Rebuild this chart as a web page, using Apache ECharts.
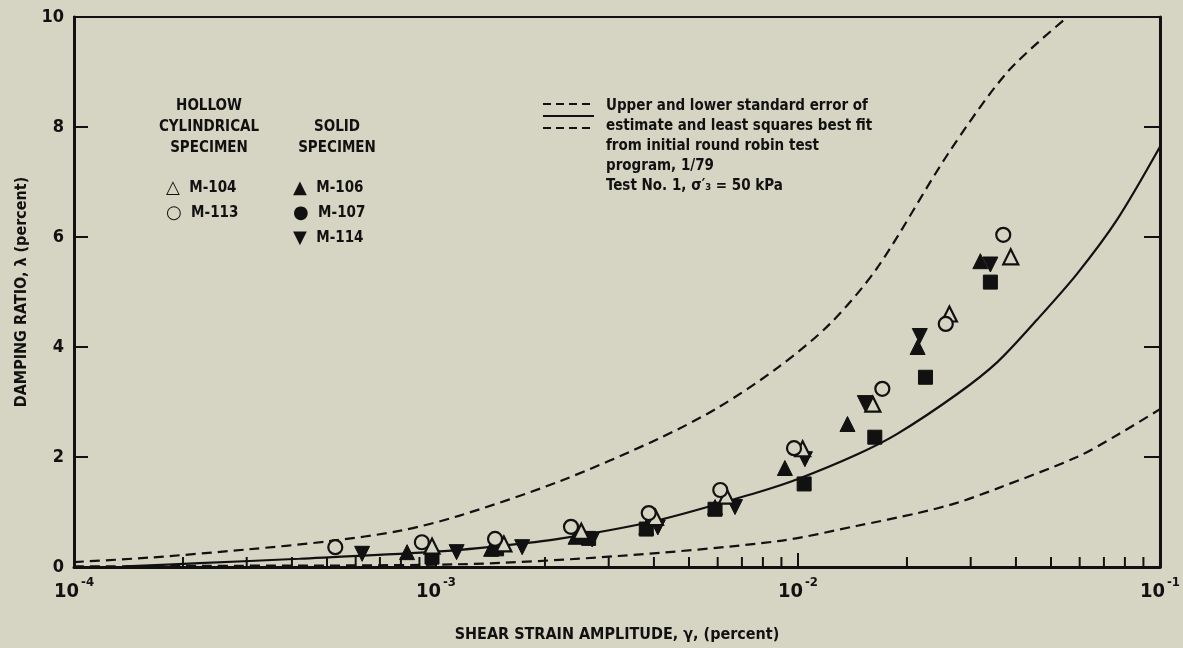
<!DOCTYPE html>
<html><head><meta charset="utf-8">
<script src="https://cdn.jsdelivr.net/npm/echarts@6/dist/echarts.min.js"></script>
<style>html,body{margin:0;padding:0;background:#d6d4c3}#c{width:1183px;height:648px}</style>
</head><body><div id="c"></div>
<script>
// ---- data (x = shear strain amplitude %, y = damping ratio %) ----
const m104 = [[9.75e-4,0.38],[1.54e-3,0.42],[2.52e-3,0.65],[4.04e-3,0.90],[6.34e-3,1.29],[1.03e-2,2.15],[1.61e-2,2.96],[2.62e-2,4.60],[3.87e-2,5.64]];
const m113 = [[5.27e-4,0.36],[9.14e-4,0.45],[1.456e-3,0.51],[2.36e-3,0.73],[3.87e-3,0.98],[6.10e-3,1.40],[9.75e-3,2.16],[1.71e-2,3.24],[2.56e-2,4.42],[3.69e-2,6.04]];
const m106 = [[8.32e-4,0.27],[1.42e-3,0.33],[2.43e-3,0.55],[3.81e-3,0.73],[5.90e-3,1.09],[9.2e-3,1.80],[1.37e-2,2.60],[2.14e-2,4.00],[3.19e-2,5.56]];
const m107 = [[9.75e-4,0.18],[1.47e-3,0.33],[2.64e-3,0.52],[3.81e-3,0.69],[5.9e-3,1.05],[1.04e-2,1.51],[1.63e-2,2.36],[2.25e-2,3.45],[3.40e-2,5.18]];
const m114 = [[6.25e-4,0.24],[1.14e-3,0.27],[1.73e-3,0.36],[2.7e-3,0.50],[4.1e-3,0.72],[6.70e-3,1.09],[1.045e-2,1.96],[1.53e-2,2.98],[2.17e-2,4.20],[3.40e-2,5.50]];
const bestFit = [[1.39e-4,0.01],[2.22e-4,0.07],[4.2e-4,0.15],[9.57e-4,0.27],[1.49e-3,0.38],[2.18e-3,0.51],[4.11e-3,0.85],[7.76e-3,1.36],[1.0e-2,1.6],[1.46e-2,2.05],[1.88e-2,2.42],[2.76e-2,3.15],[3.56e-2,3.73],[4.58e-2,4.5],[5.9e-2,5.33],[7.62e-2,6.32],[0.1,7.64]];
const upperErr = [[1.0e-4,0.09],[1.61e-4,0.17],[3.02e-4,0.32],[5.07e-4,0.47],[7.97e-4,0.66],[1.156e-3,0.93],[2.18e-3,1.55],[4.11e-3,2.33],[6.02e-3,2.9],[8.81e-3,3.63],[1.225e-2,4.42],[1.66e-2,5.45],[2.59e-2,7.5],[3.79e-2,9.0],[5.55e-2,10.0]];
const lowerErr = [[1.0e-4,0.01],[2.22e-4,0.02],[1.156e-3,0.05],[3.19e-3,0.20],[8.81e-3,0.47],[1.46e-2,0.75],[2.14e-2,0.98],[2.76e-2,1.17],[3.56e-2,1.43],[5.9e-2,2.0],[7.62e-2,2.4],[0.1,2.87]];
const minorTicks = [2e-4,3e-4,4e-4,5e-4,6e-4,7e-4,8e-4,9e-4,2e-3,3e-3,4e-3,5e-3,6e-3,7e-3,8e-3,9e-3,2e-2,3e-2,4e-2,5e-2,6e-2,7e-2,8e-2,9e-2];
const yTicks = [0,2,4,6,8,10];

const FONT = '"Liberation Sans Narrow","DejaVu Sans Condensed","Roboto Condensed",sans-serif';
const BG = '#d6d4c3';
const chart = echarts.init(document.getElementById('c'));

const openSym = {color: BG, borderColor: '#111', borderWidth: 2.2, opacity: 1};
const fillSym = {color: '#111', borderColor: '#111', borderWidth: 1, opacity: 1};
const curve = (name, data, dashed) => ({name, type:'line', data, smooth:0.3, showSymbol:false, symbol:'none', z:3,
  lineStyle:{color:'#111', width:2.2, type: dashed ? [10,6] : 'solid'}});

chart.setOption({
  backgroundColor: BG,
  animation: false,
  grid: {left: 74, right: 20, top: 17, bottom: 80, show: true, borderColor: '#111', borderWidth: 2, backgroundColor: 'transparent'},
  xAxis: {
    type: 'log', logBase: 10, min: 1e-4, max: 0.1,
    name: 'SHEAR STRAIN AMPLITUDE, γ, (percent)', nameLocation: 'middle', nameGap: 60,
    nameTextStyle: {fontFamily: FONT, fontWeight: 'bold', fontSize: 16, color: '#111'},
    axisLine: {lineStyle: {color: '#111', width: 3}},
    axisTick: {inside: true, length: 14, lineStyle: {color: '#111', width: 2}},
    splitLine: {show: false}, minorTick: {show: false},
    axisLabel: {
      margin: 9, color: '#111',
      formatter: v => '{b|10}{s|' + Math.round(Math.log10(v)) + '}',
      rich: {
        b: {fontFamily: FONT, fontWeight: 'bold', fontSize: 20, color: '#111', lineHeight: 26, verticalAlign: 'bottom'},
        s: {fontFamily: FONT, fontWeight: 'bold', fontSize: 13, color: '#111', lineHeight: 26, verticalAlign: 'top', padding: [0,0,0,2]}
      }
    }
  },
  yAxis: [{
    type: 'value', min: 0, max: 10, interval: 2,
    name: 'DAMPING RATIO, λ (percent)', nameLocation: 'middle', nameGap: 44, nameRotate: 90,
    nameTextStyle: {fontFamily: FONT, fontWeight: 'bold', fontSize: 16, color: '#111'},
    axisLine: {lineStyle: {color: '#111', width: 3}},
    axisTick: {inside: true, length: 14, lineStyle: {color: '#111', width: 2}},
    splitLine: {show: false},
    axisLabel: {margin: 10, fontFamily: FONT, fontWeight: 'bold', fontSize: 18, color: '#111',
      formatter: v => yTicks.includes(v) ? String(v) : ''}
  }, {
    type: 'value', min: 0, max: 10, interval: 2, position: 'right',
    axisLine: {show: true, lineStyle: {color: '#111', width: 3}},
    axisTick: {inside: true, length: 16, lineStyle: {color: '#111', width: 2}},
    axisLabel: {show: false}, splitLine: {show: false}
  }],
  graphic: [
    // line legend
    {type:'line', shape:{x1:543,y1:104,x2:594,y2:104}, style:{stroke:'#111', lineWidth:2, lineDash:[8,5]}},
    {type:'line', shape:{x1:543,y1:116,x2:594,y2:116}, style:{stroke:'#111', lineWidth:2}},
    {type:'line', shape:{x1:543,y1:128,x2:594,y2:128}, style:{stroke:'#111', lineWidth:2, lineDash:[8,5]}},
    {type:'text', left: 606, top: 96, style:{text:'Upper and lower standard error of\nestimate and least squares best fit\nfrom initial round robin test\nprogram, 1/79\nTest No. 1, σ′₃ = 50 kPa', font:'bold 15px '+FONT, fill:'#111', lineHeight:20}},
    // specimen legend
    {type:'text', x: 209, y: 96, style:{text:'HOLLOW\nCYLINDRICAL\nSPECIMEN', font:'bold 15px '+FONT, fill:'#111', align:'center', lineHeight:21}},
    {type:'text', x: 337, y: 117, style:{text:'SOLID\nSPECIMEN', font:'bold 15px '+FONT, fill:'#111', align:'center', lineHeight:21}},
    {type:'text', left: 166, top: 176, style:{text:'{g|△}  M-104\n{g|○}  M-113', font:'bold 15px '+FONT, fill:'#111', lineHeight:25,
      rich:{g:{fontFamily:'DejaVu Sans', fontSize:18, fontWeight:'bold', lineHeight:25}}}},
    {type:'text', left: 293, top: 176, style:{text:'{g|▲}  M-106\n{g|●}  M-107\n{g|▼}  M-114', font:'bold 15px '+FONT, fill:'#111', lineHeight:25,
      rich:{g:{fontFamily:'DejaVu Sans', fontSize:18, fontWeight:'bold', lineHeight:25}}}}
  ],
  series: [
    curve('Upper standard error', upperErr, true),
    curve('Lower standard error', lowerErr, true),
    curve('Least squares best fit', bestFit, false),
    {name:'minor ticks', type:'custom', data: minorTicks.map(v => [v, 0]), z:4, silent:true,
      renderItem: (params, api) => {
        const p = api.coord([api.value(0), 0]);
        return {type:'line', shape:{x1:p[0], y1:p[1], x2:p[0], y2:p[1]-10}, style:{stroke:'#111', lineWidth:2}};
      }},
    {name:'M-106', type:'scatter', data: m106, symbol:'triangle', symbolSize:15, itemStyle: fillSym, z:5},
    {name:'M-107', type:'scatter', data: m107, symbol:'rect', symbolSize:14, itemStyle: fillSym, z:5},
    {name:'M-114', type:'scatter', data: m114, symbol:'triangle', symbolRotate:180, symbolSize:15, itemStyle: fillSym, z:5},
    {name:'M-104', type:'scatter', data: m104, symbol:'triangle', symbolSize:15, itemStyle: openSym, z:6},
    {name:'M-113', type:'scatter', data: m113, symbol:'circle', symbolSize:14, itemStyle: openSym, z:6}
  ]
});
</script></body></html>
